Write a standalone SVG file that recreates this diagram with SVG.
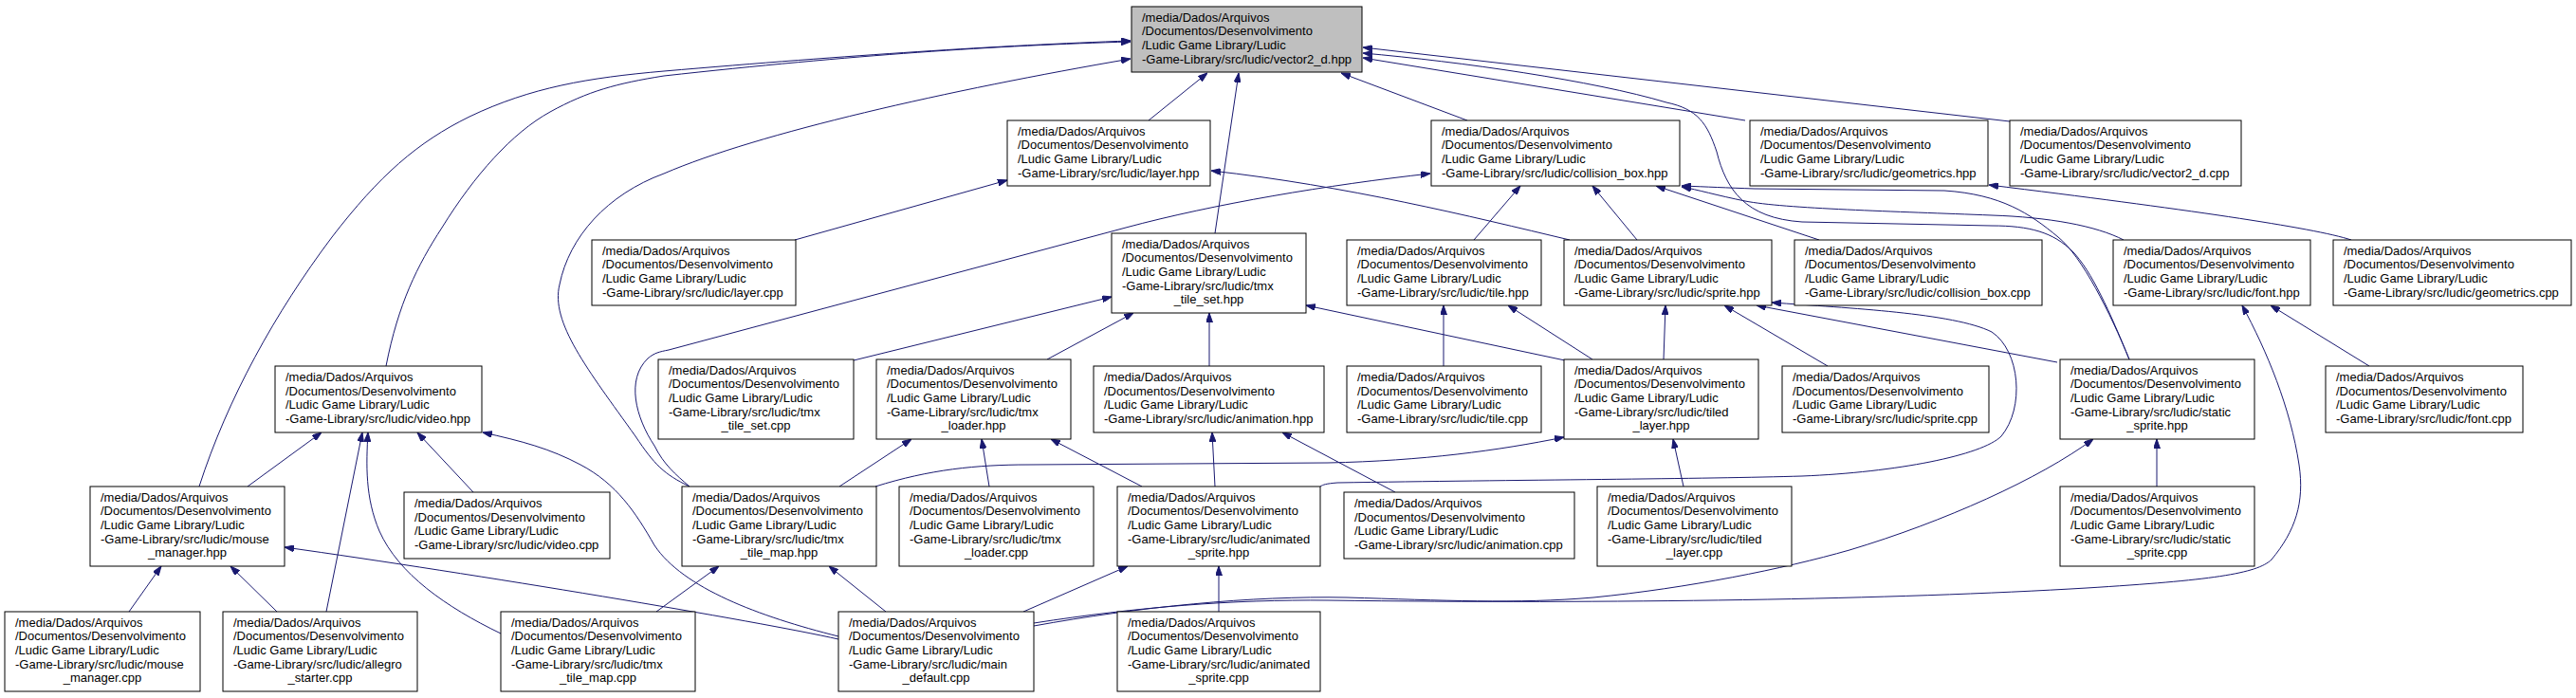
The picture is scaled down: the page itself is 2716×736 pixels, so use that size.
<svg xmlns="http://www.w3.org/2000/svg" width="2716" height="736" viewBox="0 0 2716 736">
<defs>
<marker id="ah" viewBox="0 0 10 7" refX="10" refY="3.5" markerWidth="10" markerHeight="7" markerUnits="userSpaceOnUse" orient="auto"><path d="M0,0 L10,3.5 L0,7 z" fill="#191970" stroke="#191970" stroke-width="1"/></marker>
<style>
.n{fill:#ffffff;stroke:#000000;stroke-width:1}
.r{fill:#bfbfbf;stroke:#000000;stroke-width:1}
.t{font-family:"Liberation Sans",Arial,Helvetica,sans-serif;font-size:13px;fill:#000000}
.c{text-anchor:middle}
.e{fill:none;stroke:#191970;stroke-width:1;marker-end:url(#ah)}
</style>
</defs>
<rect x="0" y="0" width="2716" height="736" fill="#ffffff"/>
<g id="edges">
<path class="e" d="M1211,127 L1273,77"/>
<path class="e" d="M1281,246 L1306,77"/>
<path class="e" d="M1547,127 L1414,77"/>
<path class="e" d="M1840,127 L1437,61"/>
<path class="e" d="M2119,128 L1437,50"/>
<path class="e" d="M2245,379 C2225,330 2205,285 2185,265 C2165,245 2140,238 2100,238 L1900,234 C1840,230 1820,200 1810,160 C1800,130 1790,115 1757,108 C1680,85 1540,65 1437,56"/>
<path class="e" d="M2245,379 C2225,330 2195,270 2170,250 C2140,225 2110,205 2050,201 L1850,199 C1820,198 1800,197 1773,196"/>
<path class="e" d="M2239,253 C2210,238 2160,229 2100,227 C2000,223 1880,220 1840,212 C1810,206 1790,200 1773,197"/>
<path class="e" d="M727,513 C700,500 690,490 670,460 C620,390 580,340 590,300 C600,250 640,205 700,183 C800,140 1000,95 1192,62"/>
<path class="e" d="M727,513 C712,500 700,490 690,470 C670,440 660,400 683,378 C690,372 695,371 705,369 L1187,240 C1280,215 1400,195 1508,183"/>
<path class="e" d="M210,513 C240,420 290,330 350,250 C400,185 440,150 495,123 C560,92 620,82 700,75 C900,58 1050,48 1192,43"/>
<path class="e" d="M407,386 C420,320 440,280 466,240 C500,185 540,140 580,118 C620,96 650,88 700,80 C900,58 1050,48 1192,44"/>
<path class="e" d="M838,253 L1062,190"/>
<path class="e" d="M1655,253 C1550,228 1420,196 1277,180"/>
<path class="e" d="M1554,253 L1603,196"/>
<path class="e" d="M1726,253 L1679,196"/>
<path class="e" d="M1918,253 L1746,196"/>
<path class="e" d="M2479,253 C2440,240 2300,220 2097,195"/>
<path class="e" d="M2498,386 L2394,322"/>
<path class="e" d="M900,380 L1172,313"/>
<path class="e" d="M1104,379 L1195,330"/>
<path class="e" d="M1275,386 L1275,330"/>
<path class="e" d="M1650,380 L1377,322"/>
<path class="e" d="M1522,386 L1522,322"/>
<path class="e" d="M1679,379 L1590,322"/>
<path class="e" d="M1754,379 L1756,322"/>
<path class="e" d="M1927,386 L1818,322"/>
<path class="e" d="M2169,382 L1852,322"/>
<path class="e" d="M2274,513 L2274,463"/>
<path class="e" d="M1392,513 C1395,511 1398,510 1410,509 C1600,506 1800,505 1900,502 C2000,498 2090,480 2110,460 C2135,430 2130,370 2100,350 C2060,330 1950,325 1868,319"/>
<path class="e" d="M923,513 C980,495 1030,490 1084,490 L1400,488 C1500,486 1580,475 1649,461"/>
<path class="e" d="M1775,513 L1764,463"/>
<path class="e" d="M499,519 L440,456"/>
<path class="e" d="M261,513 L339,456"/>
<path class="e" d="M344,645 L382,456"/>
<path class="e" d="M528,668 C470,640 420,605 400,560 C385,525 386,490 388,456"/>
<path class="e" d="M884,671 C800,650 720,620 690,575 C670,540 650,510 612,490 C580,473 550,465 509,456"/>
<path class="e" d="M884,674 C800,655 500,605 300,577"/>
<path class="e" d="M136,645 L170,597"/>
<path class="e" d="M292,645 L243,597"/>
<path class="e" d="M692,645 L758,597"/>
<path class="e" d="M934,645 L874,597"/>
<path class="e" d="M885,513 L961,463"/>
<path class="e" d="M1043,513 L1035,463"/>
<path class="e" d="M1204,513 L1108,463"/>
<path class="e" d="M1281,513 L1278,456"/>
<path class="e" d="M1471,519 L1352,456"/>
<path class="e" d="M1285,645 L1285,597"/>
<path class="e" d="M1079,645 L1189,597"/>
<path class="e" d="M1090,660 C1200,640 1320,628 1420,630 C1520,633 1600,637 1680,630 C1780,620 1880,600 1950,580 C2050,550 2150,505 2207,463"/>
<path class="e" d="M1090,657 C1200,640 1300,632 1400,633 C1700,637 2000,632 2200,620 C2330,612 2380,605 2395,590 C2420,560 2430,530 2424,490 C2415,430 2390,370 2364,322"/>
</g>
<g id="n_vector2_d_hpp"><rect class="r" x="1193" y="7" width="243" height="69"/><text class="t" y="22.5"><tspan x="1204">/media/Dados/Arquivos</tspan><tspan x="1204" dy="14.67">/Documentos/Desenvolvimento</tspan><tspan x="1204" dy="14.67">/Ludic Game Library/Ludic</tspan><tspan x="1204" dy="14.67">-Game-Library/src/ludic/vector2_d.hpp</tspan></text></g>
<g id="n_layer_hpp"><rect class="n" x="1062" y="127" width="214" height="69"/><text class="t" y="142.5"><tspan x="1073">/media/Dados/Arquivos</tspan><tspan x="1073" dy="14.67">/Documentos/Desenvolvimento</tspan><tspan x="1073" dy="14.67">/Ludic Game Library/Ludic</tspan><tspan x="1073" dy="14.67">-Game-Library/src/ludic/layer.hpp</tspan></text></g>
<g id="n_collision_box_hpp"><rect class="n" x="1509" y="127" width="262" height="69"/><text class="t" y="142.5"><tspan x="1520">/media/Dados/Arquivos</tspan><tspan x="1520" dy="14.67">/Documentos/Desenvolvimento</tspan><tspan x="1520" dy="14.67">/Ludic Game Library/Ludic</tspan><tspan x="1520" dy="14.67">-Game-Library/src/ludic/collision_box.hpp</tspan></text></g>
<g id="n_geometrics_hpp"><rect class="n" x="1845" y="127" width="251" height="69"/><text class="t" y="142.5"><tspan x="1856">/media/Dados/Arquivos</tspan><tspan x="1856" dy="14.67">/Documentos/Desenvolvimento</tspan><tspan x="1856" dy="14.67">/Ludic Game Library/Ludic</tspan><tspan x="1856" dy="14.67">-Game-Library/src/ludic/geometrics.hpp</tspan></text></g>
<g id="n_vector2_d_cpp"><rect class="n" x="2119" y="127" width="244" height="69"/><text class="t" y="142.5"><tspan x="2130">/media/Dados/Arquivos</tspan><tspan x="2130" dy="14.67">/Documentos/Desenvolvimento</tspan><tspan x="2130" dy="14.67">/Ludic Game Library/Ludic</tspan><tspan x="2130" dy="14.67">-Game-Library/src/ludic/vector2_d.cpp</tspan></text></g>
<g id="n_layer_cpp"><rect class="n" x="624" y="253" width="215" height="69"/><text class="t" y="268.5"><tspan x="635">/media/Dados/Arquivos</tspan><tspan x="635" dy="14.67">/Documentos/Desenvolvimento</tspan><tspan x="635" dy="14.67">/Ludic Game Library/Ludic</tspan><tspan x="635" dy="14.67">-Game-Library/src/ludic/layer.cpp</tspan></text></g>
<g id="n_tmx_tile_set_hpp"><rect class="n" x="1172" y="246" width="205" height="84"/><text class="t" y="261.5"><tspan x="1183">/media/Dados/Arquivos</tspan><tspan x="1183" dy="14.67">/Documentos/Desenvolvimento</tspan><tspan x="1183" dy="14.67">/Ludic Game Library/Ludic</tspan><tspan x="1183" dy="14.67">-Game-Library/src/ludic/tmx</tspan></text><text class="t c" x="1274.5" y="320.2">_tile_set.hpp</text></g>
<g id="n_tile_hpp"><rect class="n" x="1420" y="253" width="205" height="69"/><text class="t" y="268.5"><tspan x="1431">/media/Dados/Arquivos</tspan><tspan x="1431" dy="14.67">/Documentos/Desenvolvimento</tspan><tspan x="1431" dy="14.67">/Ludic Game Library/Ludic</tspan><tspan x="1431" dy="14.67">-Game-Library/src/ludic/tile.hpp</tspan></text></g>
<g id="n_sprite_hpp"><rect class="n" x="1649" y="253" width="219" height="69"/><text class="t" y="268.5"><tspan x="1660">/media/Dados/Arquivos</tspan><tspan x="1660" dy="14.67">/Documentos/Desenvolvimento</tspan><tspan x="1660" dy="14.67">/Ludic Game Library/Ludic</tspan><tspan x="1660" dy="14.67">-Game-Library/src/ludic/sprite.hpp</tspan></text></g>
<g id="n_collision_box_cpp"><rect class="n" x="1892" y="253" width="261" height="69"/><text class="t" y="268.5"><tspan x="1903">/media/Dados/Arquivos</tspan><tspan x="1903" dy="14.67">/Documentos/Desenvolvimento</tspan><tspan x="1903" dy="14.67">/Ludic Game Library/Ludic</tspan><tspan x="1903" dy="14.67">-Game-Library/src/ludic/collision_box.cpp</tspan></text></g>
<g id="n_font_hpp"><rect class="n" x="2228" y="253" width="208" height="69"/><text class="t" y="268.5"><tspan x="2239">/media/Dados/Arquivos</tspan><tspan x="2239" dy="14.67">/Documentos/Desenvolvimento</tspan><tspan x="2239" dy="14.67">/Ludic Game Library/Ludic</tspan><tspan x="2239" dy="14.67">-Game-Library/src/ludic/font.hpp</tspan></text></g>
<g id="n_geometrics_cpp"><rect class="n" x="2460" y="253" width="251" height="69"/><text class="t" y="268.5"><tspan x="2471">/media/Dados/Arquivos</tspan><tspan x="2471" dy="14.67">/Documentos/Desenvolvimento</tspan><tspan x="2471" dy="14.67">/Ludic Game Library/Ludic</tspan><tspan x="2471" dy="14.67">-Game-Library/src/ludic/geometrics.cpp</tspan></text></g>
<g id="n_video_hpp"><rect class="n" x="290" y="386" width="218" height="70"/><text class="t" y="402"><tspan x="301">/media/Dados/Arquivos</tspan><tspan x="301" dy="14.67">/Documentos/Desenvolvimento</tspan><tspan x="301" dy="14.67">/Ludic Game Library/Ludic</tspan><tspan x="301" dy="14.67">-Game-Library/src/ludic/video.hpp</tspan></text></g>
<g id="n_tmx_tile_set_cpp"><rect class="n" x="694" y="379" width="206" height="84"/><text class="t" y="394.5"><tspan x="705">/media/Dados/Arquivos</tspan><tspan x="705" dy="14.67">/Documentos/Desenvolvimento</tspan><tspan x="705" dy="14.67">/Ludic Game Library/Ludic</tspan><tspan x="705" dy="14.67">-Game-Library/src/ludic/tmx</tspan></text><text class="t c" x="797" y="453.2">_tile_set.cpp</text></g>
<g id="n_tmx_loader_hpp"><rect class="n" x="924" y="379" width="205" height="84"/><text class="t" y="394.5"><tspan x="935">/media/Dados/Arquivos</tspan><tspan x="935" dy="14.67">/Documentos/Desenvolvimento</tspan><tspan x="935" dy="14.67">/Ludic Game Library/Ludic</tspan><tspan x="935" dy="14.67">-Game-Library/src/ludic/tmx</tspan></text><text class="t c" x="1026.5" y="453.2">_loader.hpp</text></g>
<g id="n_animation_hpp"><rect class="n" x="1153" y="386" width="243" height="70"/><text class="t" y="402"><tspan x="1164">/media/Dados/Arquivos</tspan><tspan x="1164" dy="14.67">/Documentos/Desenvolvimento</tspan><tspan x="1164" dy="14.67">/Ludic Game Library/Ludic</tspan><tspan x="1164" dy="14.67">-Game-Library/src/ludic/animation.hpp</tspan></text></g>
<g id="n_tile_cpp"><rect class="n" x="1420" y="386" width="205" height="70"/><text class="t" y="402"><tspan x="1431">/media/Dados/Arquivos</tspan><tspan x="1431" dy="14.67">/Documentos/Desenvolvimento</tspan><tspan x="1431" dy="14.67">/Ludic Game Library/Ludic</tspan><tspan x="1431" dy="14.67">-Game-Library/src/ludic/tile.cpp</tspan></text></g>
<g id="n_tiled_layer_hpp"><rect class="n" x="1649" y="379" width="205" height="84"/><text class="t" y="394.5"><tspan x="1660">/media/Dados/Arquivos</tspan><tspan x="1660" dy="14.67">/Documentos/Desenvolvimento</tspan><tspan x="1660" dy="14.67">/Ludic Game Library/Ludic</tspan><tspan x="1660" dy="14.67">-Game-Library/src/ludic/tiled</tspan></text><text class="t c" x="1751.5" y="453.2">_layer.hpp</text></g>
<g id="n_sprite_cpp"><rect class="n" x="1879" y="386" width="218" height="70"/><text class="t" y="402"><tspan x="1890">/media/Dados/Arquivos</tspan><tspan x="1890" dy="14.67">/Documentos/Desenvolvimento</tspan><tspan x="1890" dy="14.67">/Ludic Game Library/Ludic</tspan><tspan x="1890" dy="14.67">-Game-Library/src/ludic/sprite.cpp</tspan></text></g>
<g id="n_static_sprite_hpp"><rect class="n" x="2172" y="379" width="205" height="84"/><text class="t" y="394.5"><tspan x="2183">/media/Dados/Arquivos</tspan><tspan x="2183" dy="14.67">/Documentos/Desenvolvimento</tspan><tspan x="2183" dy="14.67">/Ludic Game Library/Ludic</tspan><tspan x="2183" dy="14.67">-Game-Library/src/ludic/static</tspan></text><text class="t c" x="2274.5" y="453.2">_sprite.hpp</text></g>
<g id="n_font_cpp"><rect class="n" x="2452" y="386" width="208" height="70"/><text class="t" y="402"><tspan x="2463">/media/Dados/Arquivos</tspan><tspan x="2463" dy="14.67">/Documentos/Desenvolvimento</tspan><tspan x="2463" dy="14.67">/Ludic Game Library/Ludic</tspan><tspan x="2463" dy="14.67">-Game-Library/src/ludic/font.cpp</tspan></text></g>
<g id="n_mouse_manager_hpp"><rect class="n" x="95" y="513" width="205" height="84"/><text class="t" y="528.5"><tspan x="106">/media/Dados/Arquivos</tspan><tspan x="106" dy="14.67">/Documentos/Desenvolvimento</tspan><tspan x="106" dy="14.67">/Ludic Game Library/Ludic</tspan><tspan x="106" dy="14.67">-Game-Library/src/ludic/mouse</tspan></text><text class="t c" x="197.5" y="587.2">_manager.hpp</text></g>
<g id="n_video_cpp"><rect class="n" x="426" y="519" width="217" height="70"/><text class="t" y="535"><tspan x="437">/media/Dados/Arquivos</tspan><tspan x="437" dy="14.67">/Documentos/Desenvolvimento</tspan><tspan x="437" dy="14.67">/Ludic Game Library/Ludic</tspan><tspan x="437" dy="14.67">-Game-Library/src/ludic/video.cpp</tspan></text></g>
<g id="n_tmx_tile_map_hpp"><rect class="n" x="719" y="513" width="205" height="84"/><text class="t" y="528.5"><tspan x="730">/media/Dados/Arquivos</tspan><tspan x="730" dy="14.67">/Documentos/Desenvolvimento</tspan><tspan x="730" dy="14.67">/Ludic Game Library/Ludic</tspan><tspan x="730" dy="14.67">-Game-Library/src/ludic/tmx</tspan></text><text class="t c" x="821.5" y="587.2">_tile_map.hpp</text></g>
<g id="n_tmx_loader_cpp"><rect class="n" x="948" y="513" width="205" height="84"/><text class="t" y="528.5"><tspan x="959">/media/Dados/Arquivos</tspan><tspan x="959" dy="14.67">/Documentos/Desenvolvimento</tspan><tspan x="959" dy="14.67">/Ludic Game Library/Ludic</tspan><tspan x="959" dy="14.67">-Game-Library/src/ludic/tmx</tspan></text><text class="t c" x="1050.5" y="587.2">_loader.cpp</text></g>
<g id="n_animated_sprite_hpp"><rect class="n" x="1178" y="513" width="214" height="84"/><text class="t" y="528.5"><tspan x="1189">/media/Dados/Arquivos</tspan><tspan x="1189" dy="14.67">/Documentos/Desenvolvimento</tspan><tspan x="1189" dy="14.67">/Ludic Game Library/Ludic</tspan><tspan x="1189" dy="14.67">-Game-Library/src/ludic/animated</tspan></text><text class="t c" x="1285" y="587.2">_sprite.hpp</text></g>
<g id="n_animation_cpp"><rect class="n" x="1417" y="519" width="243" height="70"/><text class="t" y="535"><tspan x="1428">/media/Dados/Arquivos</tspan><tspan x="1428" dy="14.67">/Documentos/Desenvolvimento</tspan><tspan x="1428" dy="14.67">/Ludic Game Library/Ludic</tspan><tspan x="1428" dy="14.67">-Game-Library/src/ludic/animation.cpp</tspan></text></g>
<g id="n_tiled_layer_cpp"><rect class="n" x="1684" y="513" width="205" height="84"/><text class="t" y="528.5"><tspan x="1695">/media/Dados/Arquivos</tspan><tspan x="1695" dy="14.67">/Documentos/Desenvolvimento</tspan><tspan x="1695" dy="14.67">/Ludic Game Library/Ludic</tspan><tspan x="1695" dy="14.67">-Game-Library/src/ludic/tiled</tspan></text><text class="t c" x="1786.5" y="587.2">_layer.cpp</text></g>
<g id="n_static_sprite_cpp"><rect class="n" x="2172" y="513" width="205" height="84"/><text class="t" y="528.5"><tspan x="2183">/media/Dados/Arquivos</tspan><tspan x="2183" dy="14.67">/Documentos/Desenvolvimento</tspan><tspan x="2183" dy="14.67">/Ludic Game Library/Ludic</tspan><tspan x="2183" dy="14.67">-Game-Library/src/ludic/static</tspan></text><text class="t c" x="2274.5" y="587.2">_sprite.cpp</text></g>
<g id="n_mouse_manager_cpp"><rect class="n" x="5" y="645" width="206" height="84"/><text class="t" y="660.5"><tspan x="16">/media/Dados/Arquivos</tspan><tspan x="16" dy="14.67">/Documentos/Desenvolvimento</tspan><tspan x="16" dy="14.67">/Ludic Game Library/Ludic</tspan><tspan x="16" dy="14.67">-Game-Library/src/ludic/mouse</tspan></text><text class="t c" x="108" y="719.2">_manager.cpp</text></g>
<g id="n_allegro_starter_cpp"><rect class="n" x="235" y="645" width="205" height="84"/><text class="t" y="660.5"><tspan x="246">/media/Dados/Arquivos</tspan><tspan x="246" dy="14.67">/Documentos/Desenvolvimento</tspan><tspan x="246" dy="14.67">/Ludic Game Library/Ludic</tspan><tspan x="246" dy="14.67">-Game-Library/src/ludic/allegro</tspan></text><text class="t c" x="337.5" y="719.2">_starter.cpp</text></g>
<g id="n_tmx_tile_map_cpp"><rect class="n" x="528" y="645" width="205" height="84"/><text class="t" y="660.5"><tspan x="539">/media/Dados/Arquivos</tspan><tspan x="539" dy="14.67">/Documentos/Desenvolvimento</tspan><tspan x="539" dy="14.67">/Ludic Game Library/Ludic</tspan><tspan x="539" dy="14.67">-Game-Library/src/ludic/tmx</tspan></text><text class="t c" x="630.5" y="719.2">_tile_map.cpp</text></g>
<g id="n_main_default_cpp"><rect class="n" x="884" y="645" width="206" height="84"/><text class="t" y="660.5"><tspan x="895">/media/Dados/Arquivos</tspan><tspan x="895" dy="14.67">/Documentos/Desenvolvimento</tspan><tspan x="895" dy="14.67">/Ludic Game Library/Ludic</tspan><tspan x="895" dy="14.67">-Game-Library/src/ludic/main</tspan></text><text class="t c" x="987" y="719.2">_default.cpp</text></g>
<g id="n_animated_sprite_cpp"><rect class="n" x="1178" y="645" width="214" height="84"/><text class="t" y="660.5"><tspan x="1189">/media/Dados/Arquivos</tspan><tspan x="1189" dy="14.67">/Documentos/Desenvolvimento</tspan><tspan x="1189" dy="14.67">/Ludic Game Library/Ludic</tspan><tspan x="1189" dy="14.67">-Game-Library/src/ludic/animated</tspan></text><text class="t c" x="1285" y="719.2">_sprite.cpp</text></g>
</svg>
